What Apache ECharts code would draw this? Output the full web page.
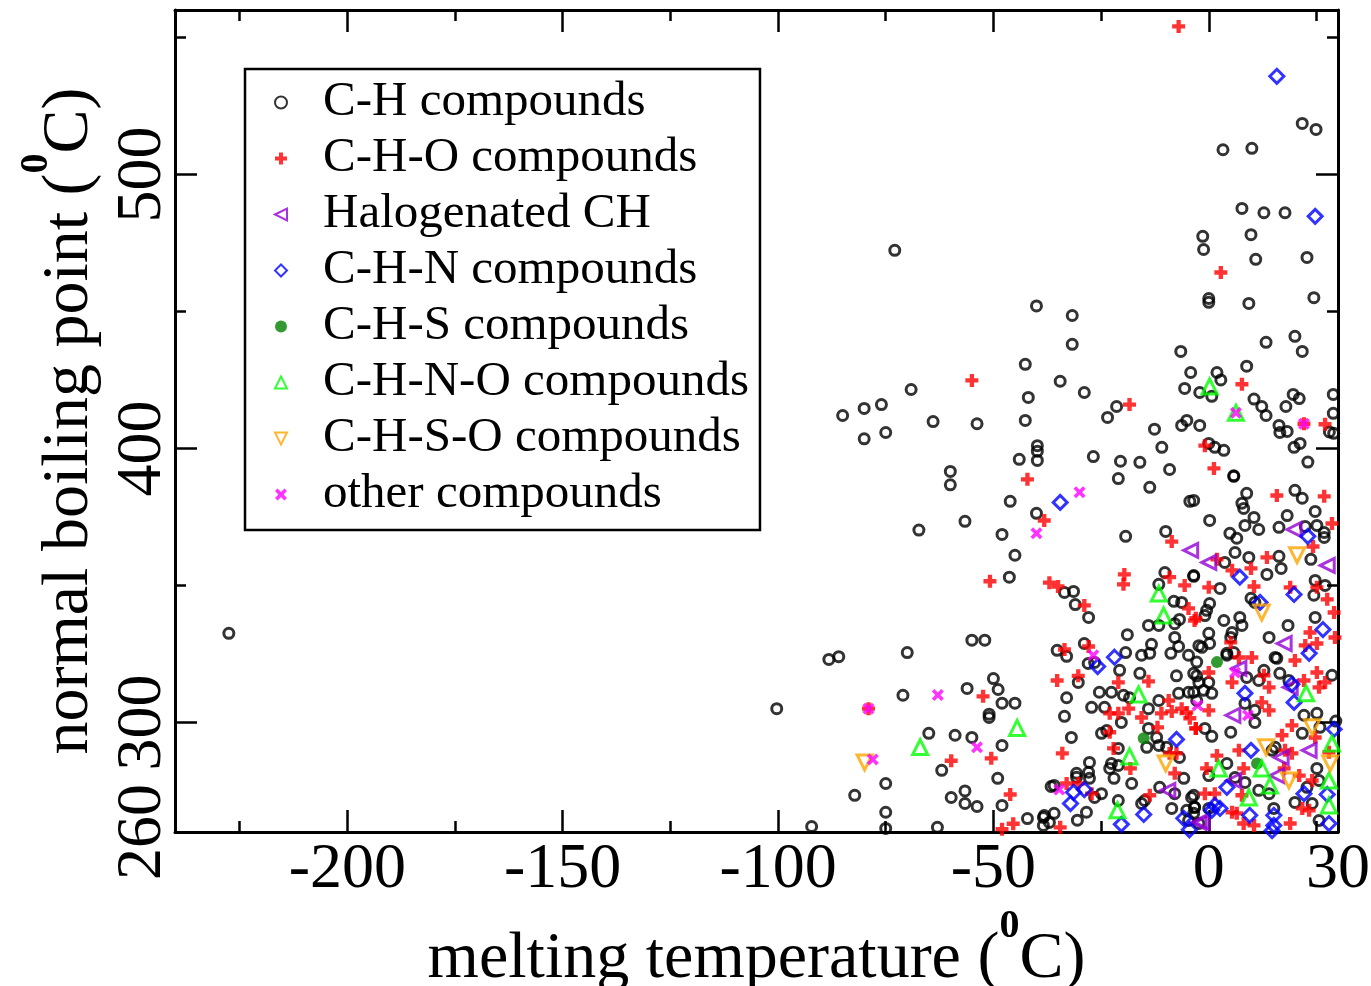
<!DOCTYPE html>
<html>
<head>
<meta charset="utf-8">
<script src="https://cdn.jsdelivr.net/npm/echarts@6/dist/echarts.min.js"></script>
<style>
html,body{margin:0;padding:0;background:#fff;}
#chart{width:1371px;height:986px;}
</style>
</head>
<body>
<div id="chart"></div>
<script>
// ---- data: [melting temperature (°C), normal boiling point (°C)] ----
const seriesNames = ['C-H compounds','C-H-O compounds','Halogenated CH','C-H-N compounds','C-H-S compounds','C-H-N-O compounds','C-H-S-O compounds','other compounds'];

const chPoints = [
[-227.5,332.5],[-100.3,305],[-92.2,262],[-88.2,323],[-85.9,324],[-85,412],[-80,414.6],[-80,403.5],[-76,416],[-75,405.8],
[-82.2,273.4],[-75,277.7],[-75,267.2],[-75,261.3],[-72.9,472.3],[-70,325.5],[-71,309.9],[-69.1,421.5],[-67.3,370.2],[-64,409.8],
[-63,261.7],[-62,282.5],[-60,391.6],[-60,386.7],
[-46.3,353],[-45,361],[-55,330],[-52,330],[-56.1,312.4],[-50,316],[-48.9,312],[-48,307],[-45,307],[-51,303],[-51,301.8],
[-65,296],[-58.9,295.3],[-55,294.5],[-48,291.6],[-49,279.6],[-56.6,275],[-59.8,272.6],[-56.6,270.4],[-53.8,269.3],[-48,269.7],
[-42.1,264.9],[-38.4,265.3],[-38.4,262.4],[-36.6,276.6],
[-40,452],[-42.6,430.7],[-41.9,418.6],[-42.6,410.2],[-39.8,401],[-39.8,399],[-39.8,395.6],[-44,396],[-53.8,409],[-46.1,380.7],
[-40,376.3],[-56.6,373.4],[-48,368.6],
[21.7,518.6],[24.9,516.4],[3.3,509],[10,509.5],[7.7,487.6],[12.8,486],[17.7,486],[-1.4,477.4],[-1.2,472.6],[9.8,478],
[10.9,469],[22.8,469.7],[0,454.7],[0,453.3],[9.3,452.9],[24.4,455],[-31.7,448.5],[-31.7,438],[-6.5,435.4],[13.3,438.7],
[20,440.9],[21.7,435.4],[8.8,430],[-4.2,427.7],[-34.5,424.5],[-28.9,420.4],[1.9,427.7],[2.8,425],[-5.6,421.9],[-2.1,420.4],
[0.7,419],[10.5,418],[12.3,415.3],[13.3,412],[17.9,415.3],[19.6,419.7],[21,418.2],[28.9,419.7],[28.9,412.8],[28,406],
[29,405.5],[-21.4,415.3],[-23.5,411.3],[-12.6,407],[-10.9,400.4],[-6.3,408.4],[-5.1,410.2],[-2.1,408.4],[0,401.8],[1.4,400.4],
[3.5,399.3],[16.3,408.4],[16.5,405.8],[18.2,406.2],[19.8,400.4],[21.2,401.8],[23,395],[-26.8,397],[-20.5,395.3],[-16,394.9],
[-9.1,392.3],[-21,389],[5.8,390],
[-13.7,385.8],[-4.4,380.7],[-19.3,367.9],[-10,369.7],[-33.5,347.4],[-31.4,347.8],[-31,343],[-27.9,338.3],[-10.2,354.7],[-3.5,353.6],
[-11.6,350.4],[-8.1,344.2],[-6.3,343.8],[-14,335.4],[-11.6,335.4],[-7.9,336],[-6.8,337.6],[-18.9,332],[-7.9,331],[-13.3,328.5],
[-7,327.7],[-2.3,328],[-35.2,326.3],[-28.9,328.8],[-19.3,325.5],[-15.6,324.5],[-13.7,325.2],[-8.8,325.2],[-4.7,324.5],
[-33,324.1],[-28,321.5],[-26.5,321.9],[-2.8,322],[-30.3,314.6],[-33,309],[-33.5,302.2],[-31.9,294.5],[-20.7,319],[-16,317.9],
[-25.4,311],[-22.6,311],[-19.8,309.9],[-18.4,309],[-11.6,308],[-14,305],[-7,310.6],[-4.7,311],[-2.8,308],[-27.2,305.5],
[-24.2,305.5],[-20.3,300],[-14,297.8],[-12.1,294.5],[-14.4,290.9],[-24.9,296],[-23.7,297],[-11.6,291.6],[-9.8,290.9],[-6.8,287.2],
[-21,290.5],[-22.6,285],[-21,284.3],[-23,283.2],[-27.7,285.4],[-27.9,281.8],[-27.7,279.6],[-30.7,281.4],[-30.7,280],[-5.8,279.6],
[-17.9,277.7],[-22,279.6],[-35.9,277],[-26.5,272.6],[-24.9,274],[-11.4,276.3],[-7.9,274],[-3.5,273.4],[-15.6,270.4],[-14.9,271.5],
[-21,271.5],[-28.4,267.2],[-30.5,264.3],[-38.2,266],[-35.9,266.8],[-37,263.5],[-8.6,268.6],[-5.1,267.9],[-3.3,269],[-4.7,264.2],
[-2.3,263.1],[-2.8,317],[-7.5,317],
[5.8,389.8],[8.8,383.6],[-3.5,381],[7.7,380],[8.1,378.1],[10.5,374.8],[0.2,373.7],[8.4,371.9],[11.6,370.4],[20,384.7],
[21.7,381.8],[18.2,375.5],[16.3,371.2],[24.7,377],[22.4,371.5],[25.1,371.9],[26.8,369.3],[26.8,367.5],[4.9,369],[6.5,367.2],
[6.1,362],[9.3,360.2],[3.7,358.4],[16.3,360.6],[16.8,356.2],[23.7,359.5],[-3.5,353.3],[13.5,354],[2.6,348.9],[9.8,345.3],
[10.7,343.8],[24.7,351.8],[27,350],[24.4,346.4],[0.2,343.4],[-0.5,340.9],[-0.9,339],[3.5,337.2],[7.2,338.3],[7.7,335.4],
[5.4,332.8],[5.1,331],[0,332.5],[0.2,328.8],[-1.6,327.4],[14,331],[18.4,335.4],[24.7,338.3],[15.4,323.7],[4.2,325.2],[5.8,325.5],
[4.2,324.5],[15.8,323.4],[-3.5,317.9],[-2.3,314.6],[0,314.6],[-1.2,311.7],[0.7,310.6],[-3.5,311],[8.8,316.4],[11.6,315.3],
[12.8,319],[16.5,317.9],[18.6,315.3],[28.6,317.2],[8.4,306.9],[10.7,304.4],[10.7,300],[22.1,302.6],[25.1,303.3],[21.7,296],
[25.8,298.2],[-0.9,297.8],[0.7,294.9],[5.1,296.4],[15.4,290.9],[14.7,289.8],[4.2,285],[0,280.6],[8.4,278.1],[6.1,279.9],
[11.6,275.2],[14,274],[25.1,283.2],[25.6,278.8],[22.8,276.3],[20,270.8],[24,270.4],[15.1,268.6],[-4,272.6],[-3.3,269],
[-3.5,266.8],[25.6,264.2],[29.5,300.5],[0,268.6]
];

const chOPoints = [
[-55,424.8],[-42.1,388.7],[-38.2,373.7],[-50.8,351.5],[-37,351],[-52.4,309.5],[-59.8,286],[-50.5,286.9],[-46.1,273.7],[-45.4,263],
[-48,261],[-79,305],
[-7,554],[2.8,464.2],[7.7,423.4],[22.1,409],[27,408.8],[-18.4,416],[-0.9,401],[1.2,392.7],
[-8.6,366],[-19.6,354],[-19.8,350.4],[-35,349.6],[-28.9,342.7],[-9.1,353],[-5.6,350],[-4.7,341.6],[-3.3,337.2],[-33.5,326.6],
[-27.9,327.7],
[-35.2,315.3],[-30.3,317],[-14,315],[-21,314.6],[-9.3,308],[-23,303.3],[-21,303.3],[-18.6,305],[-15.6,301.8],[-11,303.3],
[-8.6,304],[-6.3,305],[-5.1,303.6],[-4.4,301.5],[-3,297.8],[-11.9,298.2],[-23,296.4],[-9.1,288.7],[-7.5,288.7],[-22.1,290.5],
[-18.2,283.2],[-7.9,281.4],[-33,277.7],[-30.3,277.7],[-27.2,274],[-13.7,273.4],[-34.5,261.7],[-34,288.7],
[15.8,382.8],[26.8,382.5],[28.6,372.6],[24.2,364.2],[1.9,359.5],[13.5,360.2],[5.4,355.5],[9.8,356.2],[0,349.3],[10.5,349.6],
[18.9,349.3],[25.1,349.3],[27.5,344.9],[29.1,340.1],[-3,338],[5.1,329.2],[23.5,332.8],[25.1,328.8],[22.4,328.1],[29.3,331],
[7,323.7],[10,323.7],
[0,318.2],[20,322.6],[25.1,318.2],[5.4,314.6],[12.8,317.2],[14,312.8],[22.1,315.3],[25.6,312.8],[27,314.6],[12.3,307.3],
[14,304.4],[0,304.4],[19.3,298.9],[-3,297.8],[17,295.3],[24.7,294.5],[27.9,289.1],[7,289.8],[17.7,289.8],[19.3,288.7],
[1.9,287.9],[-0.5,283.2],[8.1,283.2],[17.5,283.2],[21,280.6],[24,278.8],[-0.9,274],[1.4,274],[7.7,273.4],[21.7,268.6],
[23.3,267.9],[5.4,267.2],[6.5,266.8],[8.1,263.1],[10.5,262.4],[18.9,263.1]
];

const halogenPoints = [
[-4.2,362.8],[-9.5,275.2],[-2.3,263.5],[19.8,370.4],[0,358.4],[27.5,357.3],[17.5,328.8],[7,319.7],[18.9,312.8],[5.6,302.6],
[16.8,287.2],[23.3,289.8],[5.8,278.8],[15.8,280.6],[-1.6,263.5]
];

const chNPoints = [
[15.8,535.8],[24.7,484.7],[-34.5,380.3],[-21.9,323.8],[-25.8,320.4],[-7.5,293.8],[-31.4,274.5],[-28.9,275.5],[-32.1,270.4],[-15.1,266.4],
[-20.3,262.8],[-5.8,265],[23,367.9],[7.2,353],[11.9,343.8],[19.8,346.7],[26.5,333.9],[23.3,325.2],[8.4,310.6],[19.3,313.9],
[19.8,307.3],[29.1,297.5],[9.8,289.8],[4.2,276.3],[22.1,274],[27.5,273.7],[1.4,269.7],[2.6,268.6],[0.7,267.9],[9.5,266.1],
[15.1,266.1],[15.1,262.4],[27.9,263.1],[14.7,260.5],[-4.5,260.8]
];

const chSPoints = [[-15.1,294.2],[1.9,322],[11.2,285]];

const chNOPoints = [
[-67,291],[-44.5,298],[0.2,422.6],[6.3,413],[-11.6,347],[-10.5,339],[-16.3,310.2],[-18.4,287.6],[-21.2,267.9],[22.6,310.6],
[28.6,292.3],[2.3,283.2],[12.3,283.2],[14.2,277],[27.9,278.8],[9.3,272.6],[27.9,269.7]
];

const chSOPoints = [[-79.9,285.4],[-10,285],[20.5,361],[12.3,340.1],[24,298.2],[28.2,285],[13.3,290.9],[18.6,278.8]];

const otherPoints = [
[-62.9,310],[-53.8,290.9],[-78,286.5],[-79,305],[-40,369],[-30,384],[-26.8,324.5],[-34.7,275.5],[6.3,413],[22.1,409],
[6.1,318.2],[9.1,302.6],[-2.6,306.2]
];

const xMajorTicks = [-200,-150,-100,-50,0];
const xMinorTicks = [-225,-175,-125,-75,-25,25];
const xTickLabels = [-200,-150,-100,-50,0,30];
const yMajorTicks = [300,400,500];
const yMinorTicks = [350,450,550];
const yTickLabels = [260,300,400,500];

// ---- chart ----
const FONT = '"Liberation Serif","DejaVu Serif",serif';
const PLUS = 'path://M4,0H8V4H12V8H8V12H4V8H0V4H4Z';
const CROSS = 'path://M0,2.6L2.6,0L6,3.4L9.4,0L12,2.6L8.6,6L12,9.4L9.4,12L6,8.6L2.6,12L0,9.4L3.4,6Z';
const TRI_LEFT = 'path://M0,6L12,0L12,12Z';
const TRI_DOWN = 'path://M0,0L12,0L6,12Z';

function axisBase(type, pos, ticks, len, withLine, labels) {
  const o = {
    type: 'value', position: pos,
    min: type === 'x' ? -240 : 260,
    max: type === 'x' ? 30 : 560,
    splitLine: {show: false},
    axisLine: {show: withLine, onZero: false, lineStyle: {color: '#000', width: 3}},
    axisTick: {show: true, inside: true, length: len, customValues: ticks, lineStyle: {color: '#000', width: 2.5}},
    axisLabel: {show: false},
    minorTick: {show: false}
  };
  if (labels) {
    o.axisLabel = {show: true, customValues: labels, color: '#000', fontFamily: FONT, fontSize: 64,
      margin: type === 'x' ? 6 : 0, rotate: type === 'x' ? 0 : 90};
  }
  return o;
}

const titleRich = {
  a: {fontFamily: FONT, fontSize: 66, color: '#000', lineHeight: 86, verticalAlign: 'bottom'},
  s: {fontFamily: FONT, fontSize: 40, fontWeight: 'bold', color: '#000', lineHeight: 40, verticalAlign: 'top'}
};

const xMain = axisBase('x', 'bottom', xMajorTicks, 22, true, xTickLabels);
xMain.name = '{a|melting temperature (}{s|0}{a|C)}';
xMain.nameLocation = 'middle';
xMain.nameGap = 64;
xMain.nameTextStyle = {rich: titleRich};

const yMain = axisBase('y', 'left', yMajorTicks, 22, true, yTickLabels);
yMain.name = '{a|normal boiling point (}{s|0}{a|C)}';
yMain.nameLocation = 'middle';
yMain.nameRotate = 90;
yMain.nameGap = 50;
yMain.nameTextStyle = {rich: titleRich};

function sc(name, data, symbol, size, style) {
  return {
    type: 'scatter', name: name, data: data, symbol: symbol, symbolSize: size,
    symbolKeepAspect: true, itemStyle: style, xAxisIndex: 0, yAxisIndex: 0,
    emphasis: {disabled: true}, clip: false
  };
}

const hollow = c => ({color: 'rgba(0,0,0,0)', borderColor: c, borderWidth: 3});
const legendIcons = ['circle', PLUS, TRI_LEFT, 'diamond', 'circle', 'triangle', TRI_DOWN, CROSS];

const option = {
  animation: false,
  backgroundColor: '#fff',
  grid: {left: 175, right: 33, top: 10, bottom: 154, containLabel: false, outerBoundsMode: 'none'},
  xAxis: [
    xMain,
    axisBase('x', 'bottom', xMinorTicks, 11, false, null),
    axisBase('x', 'top', xMajorTicks, 22, true, null),
    axisBase('x', 'top', xMinorTicks, 11, false, null)
  ],
  yAxis: [
    yMain,
    axisBase('y', 'left', yMinorTicks, 11, false, null),
    axisBase('y', 'right', yMajorTicks, 22, true, null),
    axisBase('y', 'right', yMinorTicks, 11, false, null)
  ],
  legend: {
    orient: 'vertical', left: 245, top: 69,
    padding: [9, 11, 11, 29],
    borderColor: '#000', borderWidth: 2.5, backgroundColor: '#fff',
    itemWidth: 12, itemHeight: 12, itemGap: 7,
    symbolKeepAspect: true,
    selectedMode: false,
    formatter: name => '{p|}{t|' + name + '}',
    textStyle: {
      rich: {
        p: {width: 31, height: 49},
        t: {fontFamily: FONT, fontSize: 49, color: '#000', lineHeight: 49}
      }
    },
    data: seriesNames.map((n, i) => ({name: n, icon: legendIcons[i]}))
  },
  series: [
    sc(seriesNames[0], chPoints, 'circle', 10, hollow('#000')),
    sc(seriesNames[1], chOPoints, PLUS, 13, {color: '#ff0000'}),
    sc(seriesNames[2], halogenPoints, TRI_LEFT, 14, hollow('#9400d3')),
    sc(seriesNames[3], chNPoints, 'diamond', 14, hollow('#0000ff')),
    sc(seriesNames[4], chSPoints, 'circle', 12, {color: '#008000'}),
    sc(seriesNames[5], chNOPoints, 'triangle', 15, hollow('#00ff00')),
    sc(seriesNames[6], chSOPoints, TRI_DOWN, 15, hollow('#ffa500')),
    sc(seriesNames[7], otherPoints, CROSS, 12, {color: '#ff00ff'})
  ]
};

const chart = echarts.init(document.getElementById('chart'), null, {renderer: 'canvas'});
chart.setOption(option);
</script>
</body>
</html>
